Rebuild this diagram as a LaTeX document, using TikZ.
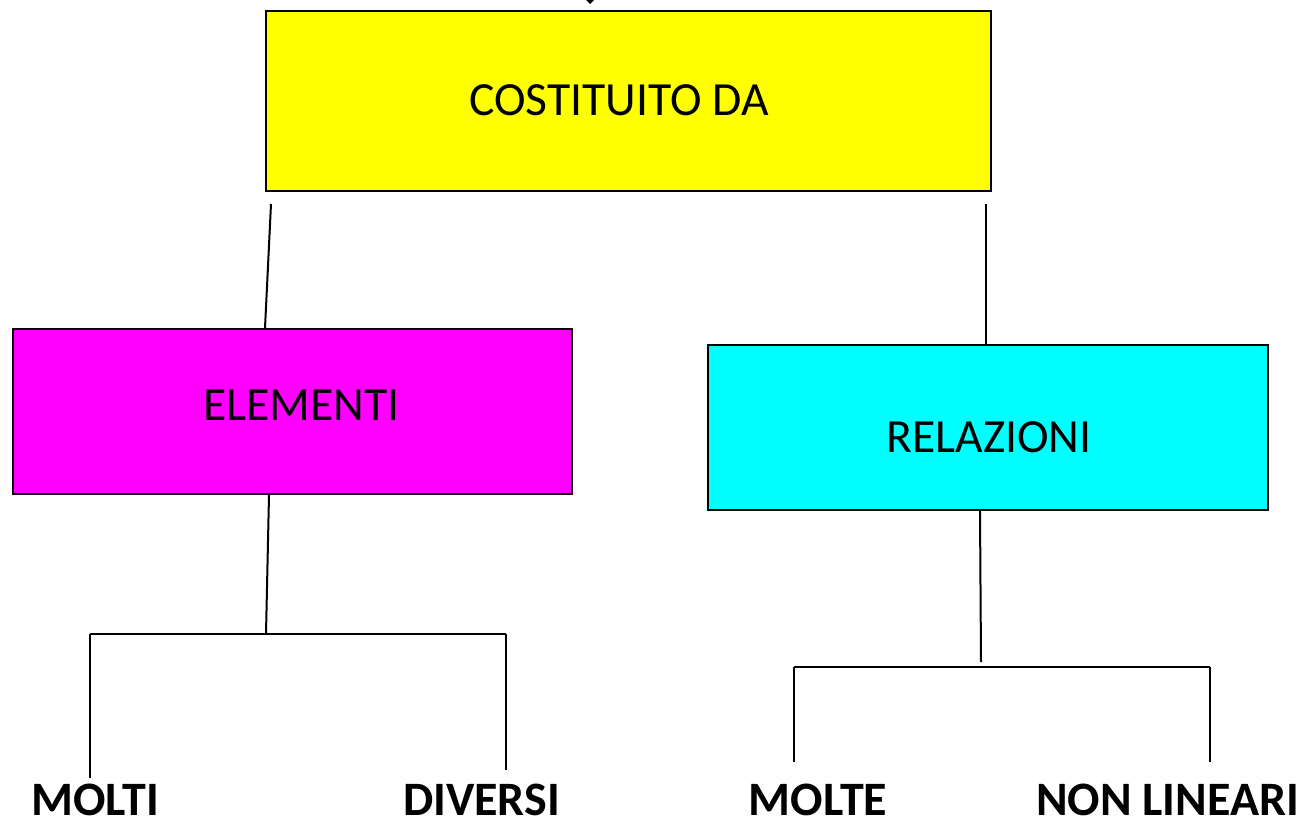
\documentclass[tikz,border=0pt]{standalone}
\usepackage{fontspec}
\setmainfont{Carlito}
\usetikzlibrary{arrows.meta,positioning,calc}

\definecolor{boxyellow}{RGB}{255,255,0}
\definecolor{boxmagenta}{RGB}{255,0,255}
\definecolor{boxcyan}{RGB}{0,255,255}

\tikzset{
  box/.style={draw=black, line width=1pt, inner sep=0pt},
  boxtext/.style={anchor=base, inner sep=0pt, font=\fontsize{23.8}{28}\selectfont},
  leaf/.style={anchor=base, inner sep=0pt, font=\fontsize{24}{28}\selectfont\bfseries},
  link/.style={draw=black, line width=1pt}
}

\begin{document}
\begin{tikzpicture}[x=0.5pt, y=-0.5pt]
  \useasboundingbox (0,0) rectangle (1301,820);

  % boxes
  \node[box, fill=boxyellow, minimum width=362.5pt, minimum height=90pt] (costituito) at (628.5,101) {};
  \node[box, fill=boxmagenta, minimum width=279.5pt, minimum height=82.5pt] (elementi) at (292.5,411.5) {};
  \node[box, fill=boxcyan, minimum width=280pt, minimum height=82.5pt] (relazioni) at (988,427.5) {};

  \node[boxtext] (costituitoT) at (619,115) {COSTITUITO DA};
  \node[boxtext] (elementiT) at (301.5,420) {ELEMENTI};
  \node[boxtext] (relazioniT) at (989,452) {RELAZIONI};

  % leaves
  \node[leaf] (molti) at (95,815) {MOLTI};
  \node[leaf] (diversi) at (481.5,815) {DIVERSI};
  \node[leaf] (molte) at (818,815) {MOLTE};
  \node[leaf] (nonlineari) at (1167.5,815) {NON LINEARI};

  % incoming arrow from above
  \coordinate (top) at (590,-40);
  \draw[link, -{Straight Barb[length=3pt, width=6pt]}, shorten >=3pt] (top) -- (top |- costituito.north);

  % first level
  \coordinate (cl) at (271,204);
  \coordinate (cr) at (986,204);
  \draw[link] (cl) -- ($(elementi.north west)+(253,0)$);
  \draw[link] (cr) -- (cr |- relazioni.north);

  % elementi fork
  \coordinate (emid) at (266,634);
  \coordinate (eleft) at (90,634);
  \coordinate (eright) at (506,634);
  \draw[link] ($(elementi.south west)+(257,0)$) -- (emid);
  \draw[link] (eleft) -- (eright);
  \draw[link] (eleft) -- ++(0,144);
  \draw[link] (eright) -- ++(0,136);

  % relazioni fork
  \coordinate (rmid) at (981,662);
  \coordinate (rleft) at (794,667);
  \coordinate (rright) at (1210,667);
  \draw[link] ($(relazioni.south west)+(273,0)$) -- (rmid);
  \draw[link] (rleft) -- (rright);
  \draw[link] (rleft) -- ++(0,95);
  \draw[link] (rright) -- ++(0,95);
\end{tikzpicture}
\end{document}
